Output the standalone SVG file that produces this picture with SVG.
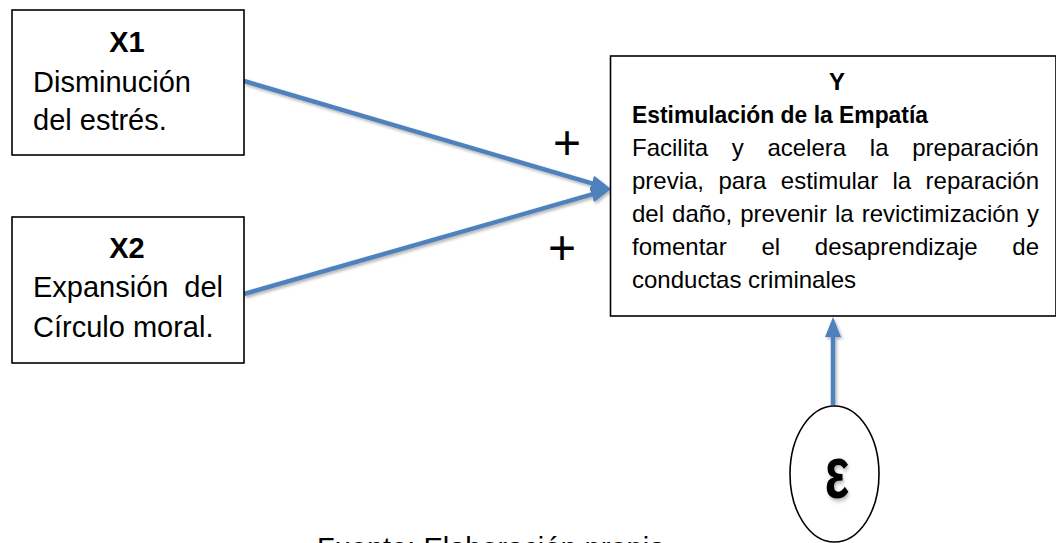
<svg xmlns="http://www.w3.org/2000/svg" width="1056" height="543" viewBox="0 0 1056 543">
  <style>
    .box { fill: #ffffff; stroke: #000000; stroke-width: 1.6; }
    .t { font-family: "Liberation Sans", Arial, sans-serif; fill: #000000; }
    .big { font-size: 29px; }
    .body { font-size: 24px; }
    .b { font-weight: bold; }
    .conn { fill: none; stroke: #4F81BD; stroke-width: 4.5; }
    .plus { font-family: "Liberation Sans", Arial, sans-serif; font-size: 48px; fill: #000000; text-anchor: middle; }
  </style>
  <defs>
    <marker id="head" markerUnits="userSpaceOnUse" markerWidth="20" markerHeight="16" refX="2" refY="8" orient="auto">
      <path d="M0,0 L20,8 L0,16 z" fill="#4F81BD"/>
    </marker>
    <filter id="shadow" x="-10%" y="-10%" width="130%" height="140%">
      <feDropShadow dx="1.5" dy="2" stdDeviation="1.5" flood-color="#000000" flood-opacity="0.3"/>
    </filter>
  </defs>

  <g id="connectors" filter="url(#shadow)">
    <line class="conn" x1="244" y1="81" x2="593.7" y2="183.9" marker-end="url(#head)"/>
    <line class="conn" x1="244" y1="294" x2="593.7" y2="193.95" marker-end="url(#head)"/>
    <line class="conn" x1="833" y1="405" x2="833" y2="335" marker-end="url(#head)"/>
  </g>

  <g id="plus-labels">
    <text class="plus" x="567" y="159">+</text>
    <text class="plus" x="562" y="264">+</text>
  </g>

  <g id="node-x1">
    <rect class="box" x="12" y="10" width="232" height="145"/>
    <text class="t big b" x="127" y="52" text-anchor="middle">X1</text>
    <text class="t big" x="33" y="92">Disminución</text>
    <text class="t big" x="33" y="130">del estrés.</text>
  </g>

  <g id="node-x2">
    <rect class="box" x="12" y="217" width="232" height="146"/>
    <text class="t big b" x="127" y="258" text-anchor="middle">X2</text>
    <text class="t big" y="297"><tspan x="33">Expansión</tspan><tspan x="184.3">del</tspan></text>
    <text class="t big" x="33" y="337">Círculo moral.</text>
  </g>

  <g id="node-y">
    <rect class="box" x="610.5" y="56" width="445.5" height="260"/>
    <text class="t body b" x="837" y="90" text-anchor="middle">Y</text>
    <text class="t body b" x="632" y="123" textLength="296" lengthAdjust="spacingAndGlyphs">Estimulación de la Empatía</text>
    <text class="t body" y="156"><tspan x="632">Facilita</tspan><tspan x="731.7">y</tspan><tspan x="767.4">acelera</tspan><tspan x="869.8">la</tspan><tspan x="912.2">preparación</tspan></text>
    <text class="t body" y="189"><tspan x="632">previa,</tspan><tspan x="718.4">para</tspan><tspan x="780.8">estimular</tspan><tspan x="892.5">la</tspan><tspan x="925.6">reparación</tspan></text>
    <text class="t body" y="222"><tspan x="632">del</tspan><tspan x="672.1">daño,</tspan><tspan x="740.2">prevenir</tspan><tspan x="835">la</tspan><tspan x="861.7">revictimización</tspan><tspan x="1027.1">y</tspan></text>
    <text class="t body" y="255"><tspan x="632">fomentar</tspan><tspan x="761.4">el</tspan><tspan x="814.8">desaprendizaje</tspan><tspan x="1012.3">de</tspan></text>
    <text class="t body" x="632" y="288">conductas criminales</text>
  </g>

  <g id="node-epsilon">
    <ellipse class="box" cx="834.5" cy="474" rx="44.5" ry="68"/>
    <text class="t b" font-size="60" text-anchor="middle" transform="translate(837,498) scale(0.86,1.25)" filter="url(#shadow)">ε</text>
  </g>

  <g id="footer">
    <text class="t big" x="317" y="558">Fuente: Elaboración propia</text>
  </g>
</svg>
